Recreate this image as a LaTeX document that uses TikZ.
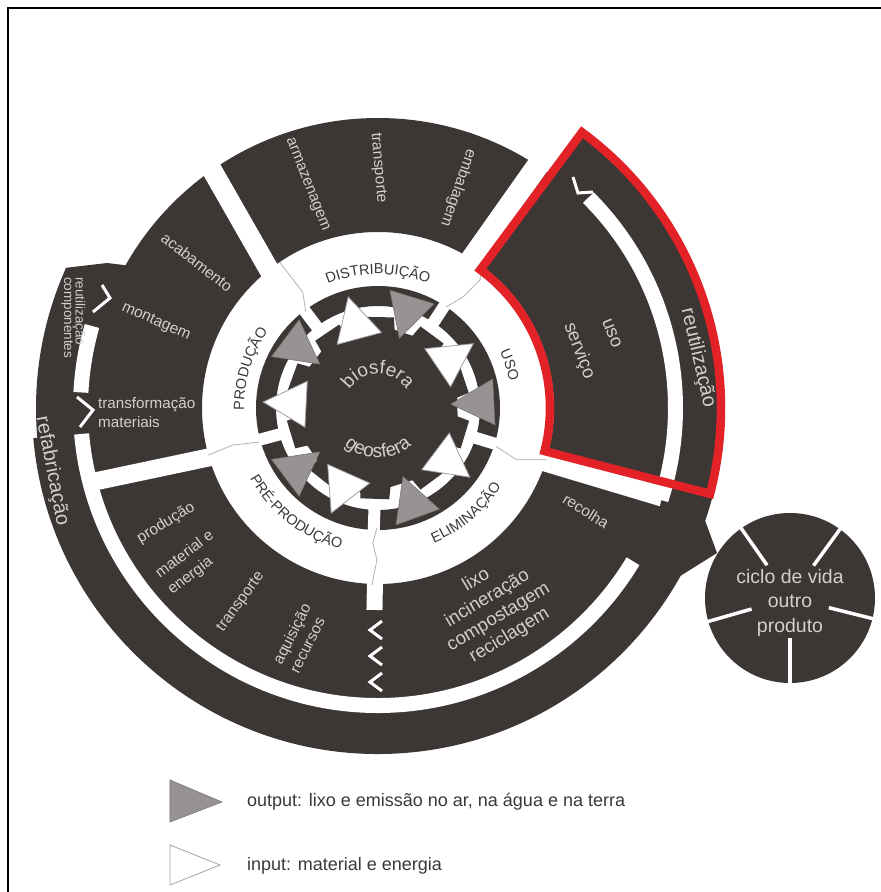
\documentclass[tikz,border=0pt]{standalone}
\usepackage{fontspec}
\setmainfont{Liberation Sans}
\usetikzlibrary{decorations.text}
\definecolor{dk}{RGB}{60,54,52}
\definecolor{lt}{RGB}{212,207,202}
\definecolor{redl}{RGB}{226,34,38}
\definecolor{tgray}{RGB}{152,147,147}
\definecolor{tedge}{RGB}{120,116,116}
\definecolor{wedge}{RGB}{160,160,160}
\definecolor{ringtxt}{RGB}{60,56,54}
\definecolor{sepc}{RGB}{175,182,168}
\begin{document}
\begin{tikzpicture}[x=1pt,y=1pt,
 lab/.style={text=lt,inner sep=0pt,font=\fontsize{15.5}{19}\selectfont},
 big/.style={text=lt,inner sep=0pt,font=\fontsize{18.5}{21.5}\selectfont},
 huge/.style={text=lt,inner sep=0pt,font=\fontsize{20}{22}\selectfont},
 chev/.style={white,line width=3,line join=miter},
 sep/.style={sepc,line width=0.8},
 wtri/.style={fill=white,draw=wedge,line width=0.8},
 gtri/.style={fill=tgray,draw=tedge,line width=0.6},
 ringlab/.style={decorate,decoration={text along path,text align=center,text color=ringtxt,text={|\fontsize{14.5}{14.5}\selectfont|#1}}},
 corelab/.style={decorate,decoration={text along path,text align=center,text color=lt,text={|\fontsize{19}{19}\selectfont|#1}}},
 legtxt/.style={anchor=west,inner sep=0pt,text=ringtxt,font=\fontsize{18}{20}\selectfont}
]
\fill[white] (-378,-484) rectangle (503,408);
\useasboundingbox (-378,-484) rectangle (503,408);
% frame
\draw[black,line width=2] (-370,-490) -- (-370,400) -- (510,400);

% ---- outer dark ring and bands
\fill[dk,even odd rule] (0,0) circle[radius=290] (0,0) circle[radius=176];
\fill[dk] (-271,145) -- (155.8:342) arc[start angle=155.8,end angle=185,radius=342]
      -- (185:346) arc[start angle=185,end angle=413.5,radius=346]
      -- (413.5:284) arc[start angle=413.5,end angle=150,radius=284] -- cycle;
% arrow tip towards the other life cycle
\fill[dk] (-19:346) -- (339,-145) -- (-29:346) -- (-24:320) -- cycle;
\node[circle,fill=dk,minimum size=170,inner sep=0pt] (cyc) at (412,-190) {};
\foreach \a in {54,125,196,270,346}
  \draw[white,line width=3.5,shift={(412,-190)}] (\a:40) -- (\a:86);
\node[text=lt,align=center,inner sep=0pt,font=\fontsize{19.5}{24.5}\selectfont] (cyctext) at (412,-194.5) {ciclo de vida\\outro\\produto};

% ---- white gaps between sectors
\draw[white,line width=20] (-106,133) -- (-174,252);
\draw[white,line width=22] (58:166) -- (56.3:352);
\draw[white,line width=20] (-17.8:166) -- (-17.3:298);
\draw[white,line width=16] (-91:170) -- (-91:202);
\draw[white,line width=18] (196.5:168) -- (194.5:298);
% white channels
\draw[white,line width=15] (164:297.5) arc[start angle=164,end angle=177,radius=297.5];
\draw[white,line width=15] (185:297.5) arc[start angle=185,end angle=329,radius=297.5];
\draw[white,line width=15] (-18:297.5) arc[start angle=-18,end angle=45,radius=297.5];

% ---- inner dark band with gaps
\fill[dk,even odd rule] (0,0) circle[radius=122] (0,0) circle[radius=102];
\foreach \a in {127,57,-17,-92,195} \draw[white,line width=12] (\a:98) -- (\a:126);

% ---- central gear
\fill[dk] (171:80) \foreach \a in {160,124,89,53.5,18.5,-17,-53.5,-92,-128.5,-163}
  { -- ({\a+11}:80) -- ({\a+9}:92) -- ({\a-9}:92) -- ({\a-11}:80) } -- cycle;

% ---- triangles
\foreach \a in {177,105,34,-37,-114}
  \filldraw[wtri,rotate=\a] (115,0) -- (72,23) -- (72,-23) -- cycle;
\foreach \a in {143,73,3,-70,-143}
  \filldraw[gtri,rotate=\a] (73,0) -- (116,23) -- (116,-23) -- cycle;

% ---- separators in white ring
\draw[sep] (127:120) -- (123:138) -- (124:176);
\draw[sep] (56:122) -- (52.5:140) -- (51.5:164) -- (54.5:178);
\draw[sep] (-18:124) -- (-20.5:148) -- (-17:177);
\draw[sep] (-90.5:120) -- (-92.2:135) -- (-90.4:152) -- (-92:177);
\draw[sep] (196:124) -- (194.3:150) -- (195.5:176);

% ---- ring labels
\path[ringlab=DISTRIBUIÇÃO] (140:134) arc[start angle=140,end angle=40,radius=134];
\path[ringlab=USO] (68:134) arc[start angle=68,end angle=-32,radius=134];
\path[ringlab=PRODUÇÃO] (213:134) arc[start angle=213,end angle=113,radius=134];
\path[ringlab=ELIMINAÇÃO] (-100:146) arc[start angle=-100,end angle=0,radius=146];
\path[ringlab=PRÉ-PRODUÇÃO] (-178:146) arc[start angle=-178,end angle=-78,radius=146];
\path[corelab=biosfera] (180:34) arc[start angle=180,end angle=0,radius=34];
\path[corelab=geosfera] (180:50) arc[start angle=180,end angle=360,radius=50];

% ---- sector labels
\node[lab,rotate=-68.5] (armaz) at (-71,223) {armazenagem};
\node[lab,rotate=-85] (transpA) at (0,240) {transporte};
\node[lab,rotate=-109] (embal) at (80,220) {embalagem};
\node[lab,rotate=-38] (acab) at (-181,146) {acabamento};
\node[lab,rotate=-24] (mont) at (-222,86) {montagem};
\node[lab,anchor=west,align=left,font=\fontsize{15.2}{19}\selectfont] (transf) at (-280,-5) {transformação\\materiais};
\node[lab,rotate=31.5] (prod) at (-212,-115) {produção};
\node[lab,rotate=37,align=left,font=\fontsize{15.5}{20}\selectfont] (mat) at (-187,-155) {material e\\energia};
\node[lab,rotate=54] (transpB) at (-137,-194) {transporte};
\node[lab,rotate=63,align=left] (aquis) at (-78,-230) {aquisição\\recursos};
\node[big,rotate=31,align=center] (lixo) at (115,-200) {lixo\\incineração\\compostagem\\reciclagem};
\node[lab,rotate=-32] (recol) at (208,-103) {recolha};
\node[big,rotate=-68] (uso) at (234,75) {uso};
\node[big,rotate=-69] (serv) at (201,57) {serviço};
\node[huge,rotate=-77] (reut) at (320,50) {reutilização};
\node[huge,rotate=-79] (refab) at (-326,-63) {refabricação};
\node[text=lt,inner sep=0pt,font=\fontsize{13.5}{13.5}\selectfont,rotate=-90,anchor=west] (reutc) at (-299,131) {reutilização};
\node[text=lt,inner sep=0pt,font=\fontsize{13.5}{13.5}\selectfont,rotate=-90,anchor=west] (comp) at (-311,131) {componentes};

% ---- chevrons
\draw[chev] (-276,123) -- (-268,110) -- (-285,96);
\draw[chev] (-301,11) -- (-285,-2) -- (-298,-19);
\draw[chev] (195,231) -- (200,215) -- (215,216);
\foreach \y in {-222,-248,-274} \draw[chev] (4,{\y+9}) -- (-8,\y) -- (4,{\y-9});

% ---- red highlight
\draw[redl,line width=8.5,line join=miter] (53.5:172) -- (53.5:343)
   arc[start angle=53.5,end angle=-14.5,radius=343] -- (-14.5:172)
   arc[start angle=-14.5,end angle=53.5,radius=172] -- cycle;

% ---- legend
\filldraw[gtri] (-208,-372) -- (-156,-394) -- (-208,-414) -- cycle;
\filldraw[wtri] (-208,-437) -- (-158,-457) -- (-208,-477) -- cycle;
\node[legtxt] (legout) at (-131,-394) {output: lixo e emissão no ar, na água e na terra};
\node[legtxt] (legin) at (-131,-458) {input: material e energia};
\end{tikzpicture}
\end{document}
